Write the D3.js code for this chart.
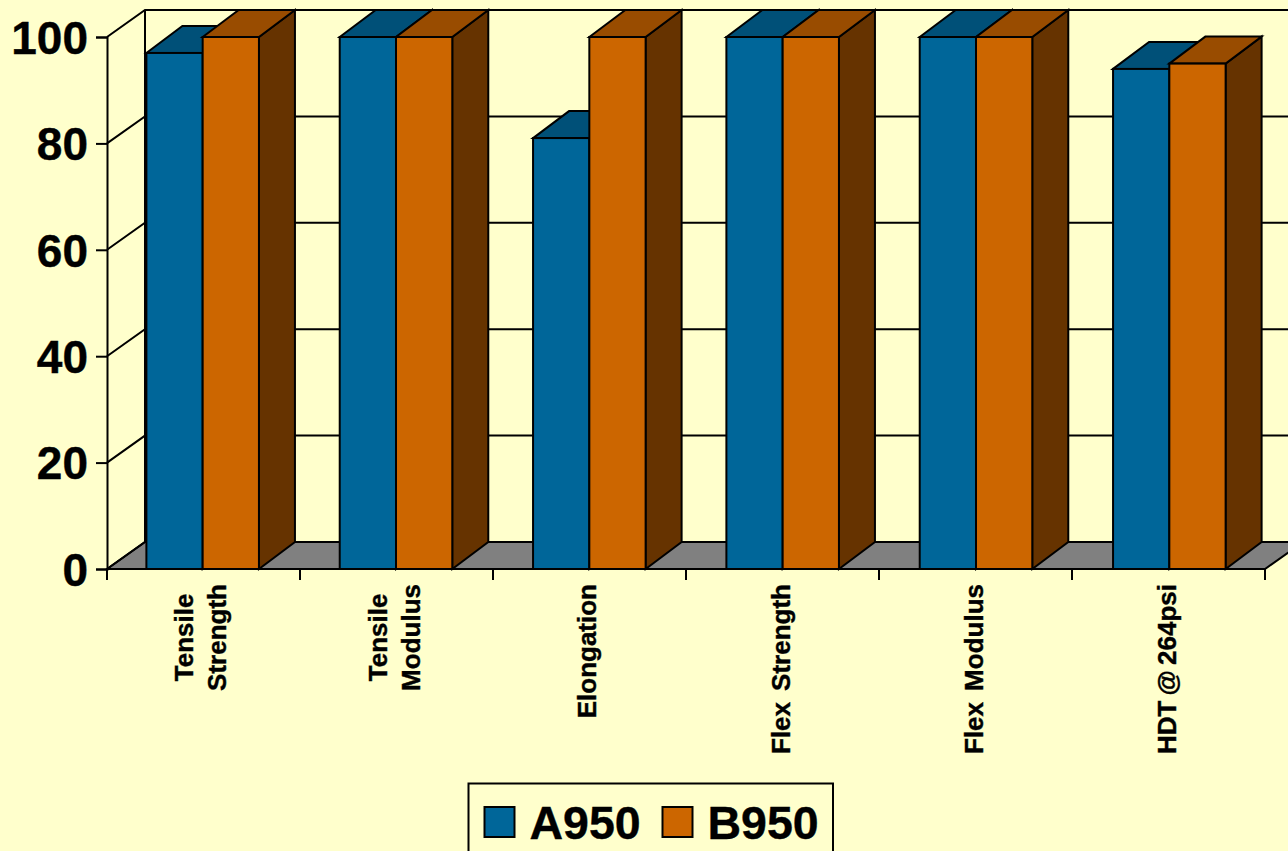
<!DOCTYPE html>
<html>
<head>
<meta charset="utf-8">
<script src="https://cdn.jsdelivr.net/npm/d3@7/dist/d3.min.js"></script>
<style>
  html, body { margin: 0; padding: 0; background: #FFFFCC; overflow: hidden; }
  svg { display: block; }
  text { font-family: "Liberation Sans", Arial, sans-serif; font-weight: bold; fill: #000; stroke: #000; stroke-width: 0.4px; }
</style>
</head>
<body>
<svg id="chart" width="1288" height="851"></svg>
<script>
// Property retention by grade
const categories = ["Tensile Strength", "Tensile Modulus", "Elongation", "Flex Strength", "Flex Modulus", "HDT @ 264psi"];
const categoryLines = [["Tensile", "Strength"], ["Tensile", "Modulus"], ["Elongation"], ["Flex Strength"], ["Flex Modulus"], ["HDT @ 264psi"]];
const seriesNames = ["A950", "B950"];
const a950 = [97, 100, 81, 100, 100, 94];
const b950 = [100, 100, 100, 100, 100, 95];
const yTicks = [0, 20, 40, 60, 80, 100];

const faceColors = { A950: "#006699", B950: "#CC6600" };
const topColors = { A950: "#005078", B950: "#994C00" };
const sideColors = { A950: "#003D5C", B950: "#663300" };

const svg = d3.select("#chart");

// Oblique projection offsets: the walls sit slightly deeper than the columns
const wallDepthX = 38, columnDepthX = 36, depthY = -27;
const spacedLabelLength = 170;

const y = d3.scaleLinear().domain([0, 100]).range([569, 37]);
const x0 = d3.scaleBand().domain(categories).range([106, 1266]).paddingInner(0.4178).paddingOuter(0.2089);
const x1 = d3.scaleBand().domain(seriesNames).range([0, x0.bandwidth()]);

const pts = a => a.map(p => p.join(",")).join(" ");
const line = "#000";

// Floor
const floorY = y(0);
svg.append("polygon")
  .attr("points", pts([[107, floorY], [107 + wallDepthX, floorY + depthY], [1265 + wallDepthX, floorY + depthY], [1265, floorY]]))
  .attr("fill", "#808080").attr("stroke", line).attr("stroke-width", 2);

// Gridlines across the back wall and the left side wall
const grid = svg.append("g").attr("stroke", line).attr("stroke-width", 2).attr("fill", "none");
yTicks.forEach(t => {
  const yy = y(t);
  grid.append("polyline").attr("points", pts([[107, yy], [107 + wallDepthX, yy + depthY], [1265 + wallDepthX, yy + depthY]]));
});
grid.append("line").attr("x1", 107 + wallDepthX).attr("x2", 107 + wallDepthX)
  .attr("y1", y(100) + depthY).attr("y2", y(0) + depthY);

// Value axis
const yAxis = d3.axisLeft(y).tickValues(yTicks).tickSize(11).tickPadding(8);
const yG = svg.append("g").attr("transform", "translate(107,0)").call(yAxis);
yG.select(".domain").attr("stroke", line).attr("stroke-width", 2);
yG.selectAll(".tick line").attr("stroke", line).attr("stroke-width", 2);
yG.selectAll(".tick text").attr("font-size", 46).attr("font-family", '"Liberation Sans", Arial, sans-serif')
  .attr("font-weight", "bold").attr("x", -19).attr("dy", "0.355em");

// Category axis ticks at the band boundaries
const xEdges = d3.range(categories.length + 1).map(i => 107 + i * (1265 - 107) / categories.length);
svg.append("g").selectAll("line").data(xEdges).join("line")
  .attr("x1", d => d).attr("x2", d => d)
  .attr("y1", floorY).attr("y2", floorY + 11)
  .attr("stroke", line).attr("stroke-width", 2);
svg.append("line").attr("x1", 107).attr("x2", 1265).attr("y1", floorY).attr("y2", floorY)
  .attr("stroke", line).attr("stroke-width", 2);

// Rotated category labels, hanging from a common top edge below the axis
const labelG = svg.append("g");
categories.forEach((c, i) => {
  const lines = categoryLines[i];
  const cx = x0(c) + x0.bandwidth() / 2 - 2;
  const g = labelG.append("g");
  const texts = lines.map(s => {
    const t = g.append("text").attr("font-size", 26).attr("text-anchor", "middle").text(s);
    const gaps = s.split(" ").length - 1;
    if (gaps > 0) {
      t.attr("word-spacing", (spacedLabelLength - t.node().getComputedTextLength()) / gaps);
    }
    return t;
  });
  const longest = d3.max(texts, t => t.node().getComputedTextLength());
  const mid = 584 + longest / 2;
  texts.forEach((t, k) => {
    const baseX = cx + 9 + (k - (lines.length - 1) / 2) * 33;
    t.attr("transform", `translate(${baseX},${mid}) rotate(-90)`);
  });
});

// Extruded columns, drawn left to right so each one overlaps its neighbour properly
categories.forEach((c, i) => {
  seriesNames.forEach((s, k) => {
    const v = (k === 0 ? a950 : b950)[i];
    const left = x0(c) + x1(s), right = left + x1.bandwidth();
    const top = y(v), base = y(0);
    const g = svg.append("g").attr("stroke", line).attr("stroke-width", 2).attr("stroke-linejoin", "miter");
    g.append("polygon")
      .attr("points", pts([[right, top], [right + columnDepthX, top + depthY], [right + columnDepthX, base + depthY], [right, base]]))
      .attr("fill", sideColors[s]);
    g.append("polygon")
      .attr("points", pts([[left, top], [left + columnDepthX, top + depthY], [right + columnDepthX, top + depthY], [right, top]]))
      .attr("fill", topColors[s]);
    g.append("rect")
      .attr("x", left).attr("y", top).attr("width", right - left).attr("height", base - top)
      .attr("fill", faceColors[s]);
  });
});

// Legend box
const legend = svg.append("g");
legend.append("rect").attr("x", 468.5).attr("y", 783.5).attr("width", 364.5).attr("height", 80)
  .attr("fill", "none").attr("stroke", line).attr("stroke-width", 2);
const legendX = d3.scaleOrdinal().domain(seriesNames).range([484.5, 662.5]);
seriesNames.forEach(s => {
  const lx = legendX(s);
  legend.append("rect").attr("x", lx).attr("y", 807).attr("width", 30).attr("height", 30)
    .attr("fill", faceColors[s]).attr("stroke", line).attr("stroke-width", 2);
  legend.append("text").attr("x", lx + 45).attr("y", 839).attr("font-size", 46.5).text(s);
});
</script>
</body>
</html>
